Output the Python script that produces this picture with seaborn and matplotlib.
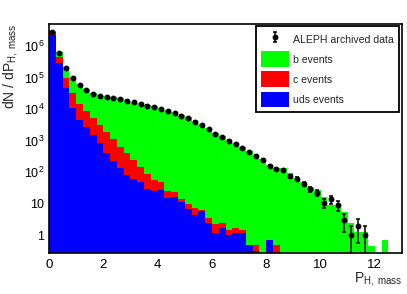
import numpy as np
import pandas as pd
import matplotlib
matplotlib.use("Agg")
import matplotlib.pyplot as plt
import seaborn as sns
from matplotlib.patches import Patch
from matplotlib.ticker import FixedLocator, FuncFormatter, MultipleLocator, NullFormatter

# ---------------- data ----------------
BIN_WIDTH = 0.25
N_BINS = 52  # 0 .. 13

uds_events = [2.19e6, 2.82e5, 4.57e4, 1.07e4, 4570, 2750, 1510, 832, 417, 229,
              141, 83, 60, 48, 30, 25, 27.5, 15.5, 16.6, 11.2,
              6.8, 4.5, 5.8, 2.5, 1.23, 1.7, 1.05, 1.23, 1.23, 0.5,
              0.32, 0, 0.72, 0, 0, 0, 0, 0, 0, 0,
              0, 0, 0, 0, 0, 0, 0, 0, 0, 0, 0, 0]

c_events = [5.0e5, 1.75e5, 4.76e4, 2.09e4, 9530, 5960, 3620, 2330, 1440, 890,
            505, 315, 185, 103, 57, 34, 20.5, 10.8, 7.9, 3.3,
            3.2, 3.1, 0.7, 1.0, 1.07, 0.75, 0.43, 0.47, 0.25, 0,
            0.18, 0, 0, 0.5, 0, 0, 0, 0, 0, 0,
            0, 0, 0, 0, 0, 0, 0, 0, 0, 0, 0, 0]

b_events = [3.1e5, 1.73e5, 1.15e5, 7.3e4, 4.74e4, 3.39e4, 2.79e4, 2.5e4, 2.32e4, 2.23e4,
            2.12e4, 1.95e4, 1.71e4, 1.54e4, 1.37e4, 1.22e4, 1.04e4, 9280, 7890, 6620,
            5450, 4270, 3370, 2450, 1690, 1380, 1070, 850, 615, 457,
            362, 262, 173, 135, 135, 93, 68, 50, 35, 27.5,
            17, 9.3, 9.3, 5.6, 2.45, 1.3, 1.3, 0.47, 0, 0.72, 0, 0]

aleph_data = [2.69e6, 5.9e5, 1.95e5, 9.8e4, 5.75e4, 3.98e4, 3.09e4, 2.63e4, 2.34e4, 2.19e4,
              2.04e4, 1.86e4, 1.62e4, 1.45e4, 1.29e4, 1.15e4, 9800, 8700, 7400, 6200,
              5100, 4000, 3160, 2290, 1580, 1290, 1000, 794, 575, 427,
              339, 245, 162, 126, 120, 76, 63, 43, 30, 22,
              11, 14, 9, 3, 1, 2, 1]

samples = ["b events", "c events", "uds events"]
colors = {"b events": "#00ff00", "c events": "#ff0000", "uds events": "#0000ff"}
x_ticks = [0, 2, 4, 6, 8, 10, 12]
y_ticks = [1, 10, 1e2, 1e3, 1e4, 1e5, 1e6]

# ---------------- build table ----------------
centers = (np.arange(N_BINS) + 0.5) * BIN_WIDTH
df = pd.concat([
    pd.DataFrame({"p": centers, "w": np.asarray(vals, dtype=float), "sample": name})
    for name, vals in zip(samples, [b_events, c_events, uds_events])
], ignore_index=True)

data_x = centers[:len(aleph_data)]
data_y = np.array(aleph_data, dtype=float)
err = np.sqrt(data_y)
err_lo = np.minimum(err, data_y - 1e-3)

# ---------------- plot ----------------
sns.set_style("white")
plt.rcParams["font.family"] = ["Liberation Sans", "DejaVu Sans"]
plt.rcParams["mathtext.fontset"] = "custom"
plt.rcParams["mathtext.rm"] = "Liberation Sans"
plt.rcParams["mathtext.it"] = "Liberation Sans"

fig = plt.figure(figsize=(4.07, 2.94), dpi=100)
ax = fig.add_axes([49 / 407, 1 - 253 / 294, 353 / 407, 229 / 294])
ax.set_yscale("log")

sns.histplot(data=df, x="p", weights="w", hue="sample", hue_order=samples,
             multiple="stack", binwidth=BIN_WIDTH, binrange=(0, N_BINS * BIN_WIDTH),
             element="step", fill=True, palette=colors, alpha=1, linewidth=0,
             legend=False, ax=ax)

eb = ax.errorbar(data_x, data_y, yerr=[err_lo, err], fmt="o", color="black",
                 markersize=3.2, elinewidth=1.1, capsize=1.6, capthick=1.1, zorder=5)

ax.set_xlim(0, 13)
ax.set_ylim(0.279, 4.93e6)

ax.xaxis.set_major_locator(FixedLocator(x_ticks))
ax.xaxis.set_minor_locator(MultipleLocator(0.5))
ax.yaxis.set_major_locator(FixedLocator(y_ticks))
minor = [m * 10.0 ** k for k in range(-1, 7) for m in range(2, 10)]
ax.yaxis.set_minor_locator(FixedLocator(minor))
ax.yaxis.set_minor_formatter(NullFormatter())


def yfmt(v, pos):
    if v == 1:
        return "1"
    if v == 10:
        return "10"
    return r"$\mathregular{10^{%d}}$" % int(round(np.log10(v)))


ax.yaxis.set_major_formatter(FuncFormatter(yfmt))
ax.xaxis.set_major_formatter(FuncFormatter(lambda v, p: "%d" % v))

ax.tick_params(axis="both", which="major", direction="in", length=7, width=1,
               labelsize=9.5, color="black", labelcolor="black")
ax.tick_params(axis="y", which="major", labelsize=9)
ax.tick_params(axis="both", which="minor", direction="in", length=3.5, width=1,
               color="black")
ax.tick_params(axis="x", which="major", pad=4)
ax.tick_params(axis="y", which="major", pad=3.5)
ax.tick_params(top=False, right=False, which="both")

for s in ax.spines.values():
    s.set_visible(True)
    s.set_color("black")
    s.set_linewidth(1.2)

ax.set_xlabel(r"P$_{\mathregular{H,\ mass}}$", fontsize=10, loc="right")
ax.xaxis.set_label_coords(1.0, -0.075)
ax.set_ylabel(r"dN / dP$_{\mathregular{H,\ mass}}$", fontsize=10, loc="top")
ax.yaxis.set_label_coords(-0.083, 1.0)

handles = [eb] + [Patch(facecolor=colors[s], edgecolor="none") for s in samples]
labels = ["ALEPH archived data"] + samples
leg = ax.legend(handles, labels, loc="upper right", bbox_to_anchor=(0.9915, 0.991),
                borderaxespad=0, fontsize=7.6, frameon=True, fancybox=False,
                handlelength=2.6, handleheight=1.9, labelspacing=0.42,
                borderpad=0.5, handletextpad=0.4)
leg.get_frame().set_edgecolor("black")
leg.get_frame().set_linewidth(1.3)
leg.get_frame().set_alpha(1)

fig.savefig("out.png", dpi=100)
